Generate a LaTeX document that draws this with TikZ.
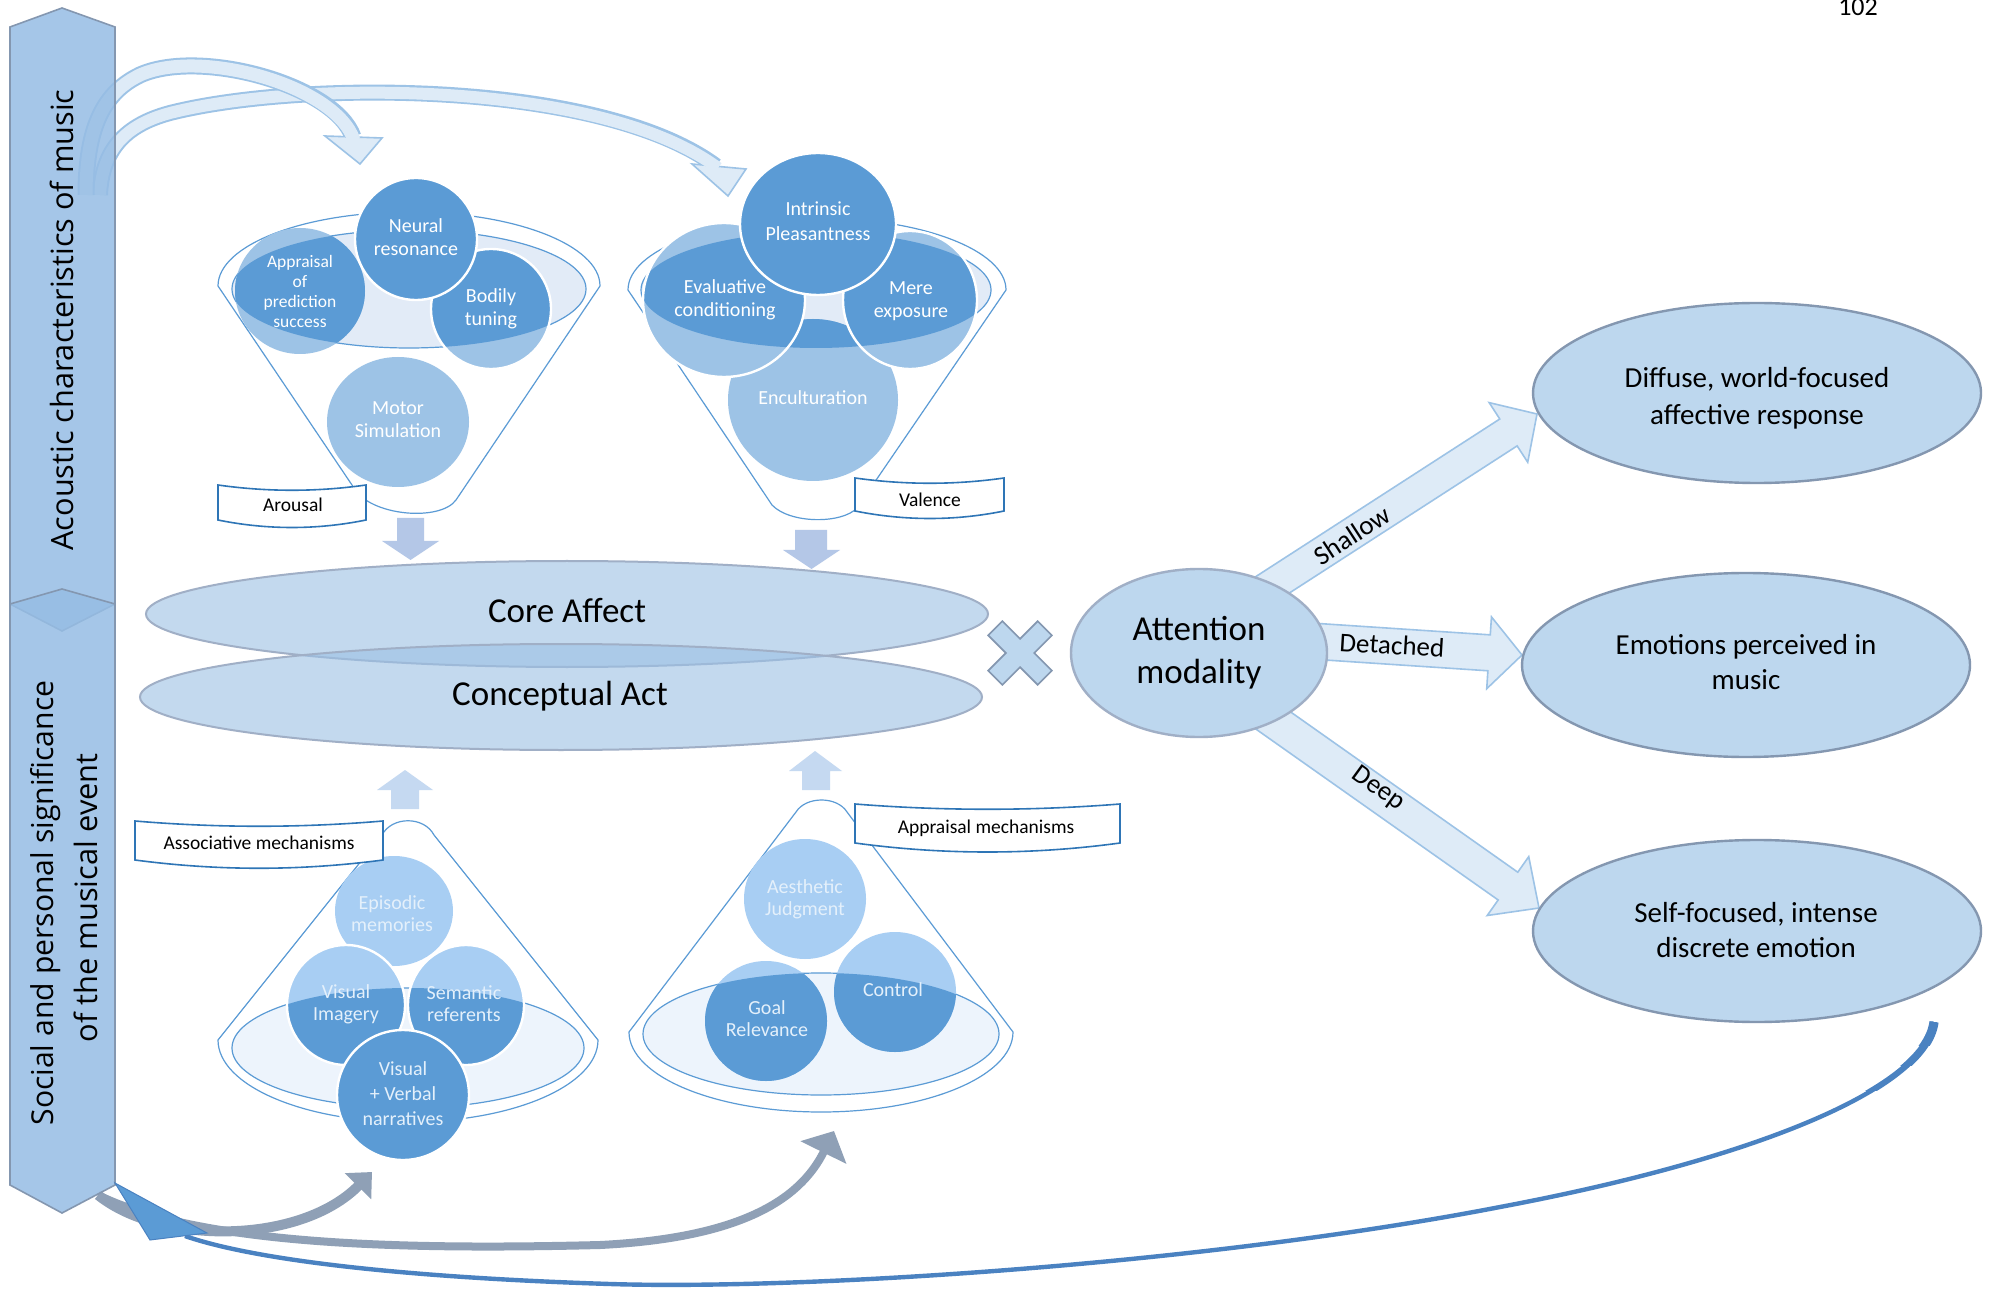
\documentclass[tikz,border=0pt]{standalone}
\usepackage{fontspec}
\setmainfont{Carlito}
\newfontfamily\barfont{Open Sans}
\usetikzlibrary{arrows.meta,calc,shapes.geometric}
\newcommand\fsz[2]{\fontsize{#1}{#2}\selectfont}
\definecolor{barC}{RGB}{150,189,228}
\definecolor{barL}{RGB}{132,151,176}
\definecolor{cdark}{RGB}{91,155,213}
\definecolor{clight}{RGB}{157,195,230}
\definecolor{clightB}{RGB}{168,206,243}
\definecolor{rimF}{RGB}{226,235,247}
\definecolor{rimFB}{RGB}{237,244,252}
\definecolor{funL}{RGB}{91,155,213}
\definecolor{ellF}{RGB}{189,215,238}
\definecolor{ellL}{RGB}{132,151,176}
\definecolor{caF}{RGB}{155,192,228}
\definecolor{caL}{RGB}{160,175,198}
\definecolor{baF}{RGB}{222,235,247}
\definecolor{baL}{RGB}{157,195,230}
\definecolor{dnA}{RGB}{180,199,231}
\definecolor{upA}{RGB}{197,217,241}
\definecolor{boxL}{RGB}{46,117,182}
\definecolor{grayA}{RGB}{143,160,182}
\definecolor{blueL}{RGB}{74,130,193}
\definecolor{softW}{RGB}{228,240,251}
\newcommand\bub[7]{%
  \fill[#7] #1 ellipse[x radius=#2, y radius=#3];
  \begin{scope}
    \clip #4 ellipse[x radius=#5, y radius=#6];
    \fill[cdark] #1 ellipse[x radius=#2, y radius=#3];
  \end{scope}}
\newcommand\bubedge[3]{\draw[white, line width=1.2pt] #1 ellipse[x radius=#2, y radius=#3];}
\newcommand\blockarr[5]{%
  \path ($(#2)!#5!(#1)$) coordinate (bah);
  \filldraw[barrow] ($(#1)!#3!90:(#2)$) -- ($(bah)!#3!90:(#2)$) -- ($(bah)!#4!90:(#2)$) -- (#2)
    -- ($(bah)!#4!-90:(#2)$) -- ($(bah)!#3!-90:(#2)$) -- ($(#1)!#3!-90:(#2)$) -- cycle;}
\begin{document}
\begin{tikzpicture}[x=0.5pt,y=-0.5pt,
  ctext/.style={text=white, align=center, inner sep=0pt, font=\fsz{10pt}{11.5pt}},
  ltext/.style={text=black, inner sep=0pt, anchor=base, font=\fsz{9.75pt}{11pt}},
  otext/.style={text=black, align=center, inner sep=0pt, font=\fsz{14.5pt}{17.5pt}},
  outell/.style={ellipse, fill=ellF, draw=ellL, line width=1.2pt, inner sep=0pt, minimum width=224pt},
  barrow/.style={fill=baF, draw=baL, line width=0.8pt},
  wavebox/.style={fill=white, draw=boxL, line width=0.8pt},
  funnel/.style={fill=white, draw=funL, line width=0.6pt},
  rim/.style={draw=funL, line width=0.6pt},
  arrlbl/.style={text=black, inner sep=0pt, font=\fsz{13.5pt}{15pt}},
  dnarrow/.style={fill=dnA},
  uparrow/.style={fill=upA}]
\fill[white] (0,0) rectangle (1995,1293);
\useasboundingbox (0,0) rectangle (1995,1293);

% ---------- top curved arrows (tails hidden under the bar)
\draw[baL, line width=8pt] (100,195) .. controls (102,150) and (125,125) .. (170,113) .. controls (300,80) and (600,80) .. (716,166);
\filldraw[barrow] (692,164) -- (746,169) -- (728,196) -- cycle;
\draw[baF, line width=6pt] (100,195) .. controls (102,150) and (125,125) .. (170,113) .. controls (300,80) and (600,80) .. (718,168);

\draw[baL, line width=8.5pt] (86,195) .. controls (86,125) and (105,92) .. (140,75) .. controls (200,48) and (335,85) .. (353,137);
\filldraw[barrow] (325,136) -- (382,138) -- (360,164) -- cycle;
\draw[baF, line width=6.5pt] (86,195) .. controls (86,125) and (105,92) .. (140,75) .. controls (200,48) and (335,85) .. (354,140);

% ---------- bottom grey arrows
\draw[grayA, line width=4pt, -{Triangle[length=12pt, width=25pt]}] (98,1195) .. controls (200,1245) and (400,1250) .. (600,1245) .. controls (740,1238) and (800,1200) .. (834,1131);
\draw[grayA, line width=5pt, -{Triangle[length=10pt, width=18pt]}] (98,1195) .. controls (160,1245) and (300,1245) .. (372,1172);

% ---------- side bars
\filldraw[fill=barC, fill opacity=0.85, draw=barL, line width=0.8pt] (10,27) -- (62,8) -- (115,27) -- (115,604) -- (62,631) -- (10,604) -- cycle;
\filldraw[fill=barC, fill opacity=0.85, draw=barL, line width=0.8pt] (10,604) -- (62,589) -- (115,604) -- (115,1185) -- (62,1213) -- (10,1185) -- cycle;
\node[rotate=90, anchor=base, inner sep=0pt] (bartop) at (73,320) {\resizebox{230.5pt}{!}{\barfont Acoustic characteristics of music}};
\node[rotate=90, anchor=base, inner sep=0pt] (barbotA) at (53,903) {\resizebox{222.5pt}{!}{\barfont Social and personal significance}};
\node[rotate=90, anchor=base, inner sep=0pt] (barbotB) at (97,898) {\resizebox{144.5pt}{!}{\barfont of the musical event}};

% ---------- long blue return line (thicker where it leaves the ellipse)
\draw[blueL, line width=2.2pt] (1934,1022) .. controls (1925,1090) and (1750,1160) .. (1500,1207) .. controls (1200,1265) and (800,1290) .. (610,1284) .. controls (420,1278) and (260,1262) .. (185,1236);
\begin{scope}
  \clip (1860,1000) rectangle (1995,1090);
  \draw[blueL, line width=3pt] (1934,1022) .. controls (1925,1090) and (1750,1160) .. (1500,1207);
\end{scope}
\begin{scope}
  \clip (1880,1000) rectangle (1995,1065);
  \draw[blueL, line width=3.8pt] (1934,1022) .. controls (1925,1090) and (1750,1160) .. (1500,1207);
\end{scope}
\begin{scope}
  \clip (1900,1000) rectangle (1995,1045);
  \draw[blueL, line width=4.6pt] (1934,1022) .. controls (1925,1090) and (1750,1160) .. (1500,1207);
\end{scope}
\filldraw[fill=cdark, draw=blueL, line width=0.5pt] (115,1183) -- (150,1240) -- (207,1233) -- cycle;

% ---------- funnel 1 (arousal)
\filldraw[funnel] (600,286) arc[start angle=0, end angle=180, x radius=95.5pt, y radius=37pt] -- (354,488) .. controls (370,516) and (440,522) .. (456,500) -- cycle;
\filldraw[rim, fill=rimF] (409,289) ellipse[x radius=88.5pt, y radius=29.5pt];
\bub{(398,422)}{35.5pt}{32.5pt}{(409,289)}{88.5pt}{29.5pt}{clight}
\bub{(300,291)}{32.5pt}{31.5pt}{(409,289)}{88.5pt}{29.5pt}{clight}
\bub{(491,309)}{30pt}{30pt}{(409,289)}{88.5pt}{29.5pt}{clight}
\bubedge{(491,309)}{30pt}{30pt}
\filldraw[fill=cdark, draw=white, line width=1.2pt] (416,239) ellipse[x radius=30.5pt, y radius=30.5pt];
\node[ctext, font=\fsz{8.75pt}{10pt}] (tappr) at (300,291) {Appraisal\\of\\prediction\\success};
\node[ctext] (tneural) at (416,237) {Neural\\resonance};
\node[ctext] (tbodily) at (491,309) {Bodily\\tuning};
\node[ctext] (tmotor) at (398,420) {Motor\\Simulation};

% ---------- funnel 2 (valence)
\filldraw[funnel] (1006,290) arc[start angle=0, end angle=180, x radius=94.5pt, y radius=36pt] -- (772,505) .. controls (790,524) and (842,524) .. (857,508) -- cycle;
\filldraw[rim, fill=rimF] (816,290) ellipse[x radius=87.5pt, y radius=29pt];
\bub{(813,400)}{42.5pt}{40.5pt}{(816,290)}{87.5pt}{29pt}{clight}
\bub{(724,300)}{40.5pt}{38.5pt}{(816,290)}{87.5pt}{29pt}{clight}
\bubedge{(724,300)}{40.5pt}{38.5pt}
\bub{(910,300)}{33.5pt}{34.5pt}{(816,290)}{87.5pt}{29pt}{clight}
\bubedge{(910,300)}{33.5pt}{34.5pt}
\filldraw[fill=cdark, draw=white, line width=1.2pt] (818,224) ellipse[x radius=39pt, y radius=35.5pt];
\node[ctext, font=\fsz{10pt}{12.5pt}] (tintr) at (818,221) {Intrinsic\\Pleasantness};
\node[ctext] (teval) at (725,300) {Evaluative\\conditioning};
\node[ctext] (tmere) at (911,301) {Mere\\exposure};
\node[ctext, anchor=base] (tencul) at (813,405) {Enculturation};

% ---------- labels and down arrows
\filldraw[wavebox] (218,485) .. controls (267,492) and (317,492) .. (366,485) -- (366,520) .. controls (317,530) and (267,530) .. (218,520) -- cycle;
\node[ltext] (larousal) at (293,512) {Arousal};
\filldraw[wavebox] (855,478) .. controls (905,485) and (955,485) .. (1004,478) -- (1004,511) .. controls (955,521) and (905,521) .. (855,511) -- cycle;
\node[ltext] (lvalence) at (930,507) {Valence};
\fill[dnarrow] (397,518) -- (424,518) -- (424,541) -- (439,541) -- (410.5,560) -- (382,541) -- (397,541) -- cycle;
\fill[dnarrow] (795,530) -- (827,530) -- (827,550) -- (840,550) -- (811.5,569) -- (783,550) -- (795,550) -- cycle;

% ---------- core affect / conceptual act
\node[ellipse, fill=caF, fill opacity=0.6, draw=caL, line width=1pt, minimum width=421pt, minimum height=53pt, inner sep=0pt] (core) at (567,614) {};
\node[ellipse, fill=caF, fill opacity=0.6, draw=caL, line width=1pt, minimum width=421pt, minimum height=53pt, inner sep=0pt] (concept) at (561,697) {};
\node[anchor=base, inner sep=0pt, font=\fsz{17.5pt}{21pt}] (coretxt) at (567,623) {Core Affect};
\node[anchor=base, inner sep=0pt, font=\fsz{17.5pt}{21pt}] (concepttxt) at (560,705) {Conceptual Act};

% ---------- multiplication sign
\filldraw[fill=ellF, draw=ellL, line width=0.8pt, shift={(1020,653)}, rotate=45] (10,10) -- (35,10) -- (35,-10) -- (10,-10) -- (10,-35) -- (-10,-35) -- (-10,-10) -- (-35,-10) -- (-35,10) -- (-10,10) -- (-10,35) -- (10,35) -- cycle;

% ---------- attention and outcomes
\coordinate (shS) at (1215,622); \coordinate (shT) at (1537,414);
\coordinate (deS) at (1250,637); \coordinate (deT) at (1522,655);
\coordinate (dpS) at (1230,690); \coordinate (dpT) at (1539,908);
\blockarr{shS}{shT}{8pt}{17.75pt}{17pt}
\blockarr{deS}{deT}{9pt}{18pt}{16.5pt}
\blockarr{dpS}{dpT}{8.5pt}{18pt}{19pt}
\node[ellipse, fill=ellF, draw=caL, line width=1.2pt, minimum width=128pt, minimum height=84pt, inner sep=0pt, align=center, font=\fsz{17.5pt}{21.5pt}] (att) at (1199,653) {Attention\\modality};
\node[arrlbl, rotate=33] (lshallow) at (1352,535) {Shallow};
\node[arrlbl, rotate=-3.5] (ldetached) at (1392,645) {Detached};
\node[arrlbl, rotate=-36] (ldeep) at (1378,789) {Deep};

\node[outell, minimum height=90pt] (diffuse) at (1757,393) {};
\node[outell, minimum height=92pt] (perceived) at (1746,665) {};
\node[outell, minimum height=91pt] (selffoc) at (1757,931) {};
\node[otext, font=\fsz{14.5pt}{18.5pt}] (tdiffuse) at (1757,398) {Diffuse, world-focused\\affective response};
\node[otext] (tperceived) at (1746,662) {Emotions perceived in\\music};
\node[otext] (tselffoc) at (1756,930) {Self-focused, intense\\discrete emotion};

% ---------- funnel 3 (associative)
\filldraw[funnel] (598,1040) arc[start angle=0, end angle=-180, x radius=95pt, y radius=41pt] -- (382,835) .. controls (392,816) and (424,816) .. (434,835) -- cycle;
\filldraw[rim, fill=rimFB] (408,1048) ellipse[x radius=88pt, y radius=30pt];
\bub{(394,911)}{29.5pt}{27.5pt}{(408,1048)}{88pt}{30pt}{clightB}
\bub{(346,1005)}{29.5pt}{30pt}{(408,1048)}{88pt}{30pt}{clightB}
\bubedge{(346,1005)}{29.5pt}{30pt}
\bub{(466,1005)}{29pt}{30pt}{(408,1048)}{88pt}{30pt}{clightB}
\bubedge{(466,1005)}{29pt}{30pt}
\filldraw[fill=cdark, draw=white, line width=1.2pt] (403,1095) ellipse[x radius=33pt, y radius=32.5pt];
\node[ctext, text=softW, font=\fsz{10pt}{11pt}] (tepis) at (392,914) {Episodic\\memories};
\node[ctext, text=softW, font=\fsz{10pt}{11pt}] (tvisimg) at (346,1004) {Visual\\Imagery};
\node[ctext, text=softW, font=\fsz{10pt}{11pt}] (tsem) at (464,1004) {Semantic\\referents};
\node[ctext, text=softW, font=\fsz{10pt}{12.5pt}] (tvv) at (403,1094) {Visual\\+ Verbal\\narratives};

% ---------- funnel 4 (appraisal)
\filldraw[funnel] (1013,1032) arc[start angle=0, end angle=-180, x radius=96pt, y radius=40pt] -- (796,812) .. controls (806,796) and (837,796) .. (847,812) -- cycle;
\filldraw[rim, fill=rimFB] (821,1034) ellipse[x radius=89pt, y radius=30.5pt];
\bub{(805,899)}{30.5pt}{30pt}{(821,1034)}{89pt}{30.5pt}{clightB}
\bub{(766,1021)}{30.5pt}{30pt}{(821,1034)}{89pt}{30.5pt}{clightB}
\bub{(895,992)}{30.5pt}{30pt}{(821,1034)}{89pt}{30.5pt}{clightB}
\node[ctext, text=softW, font=\fsz{10pt}{11pt}] (taesth) at (805,899) {Aesthetic\\Judgment};
\node[ctext, text=softW, font=\fsz{10pt}{11pt}] (tgoal) at (767,1019) {Goal\\Relevance};
\node[ctext, text=softW, anchor=base] (tcontrol) at (893,996) {Control};

% ---------- bottom labels and up arrows
\filldraw[wavebox] (135,821) .. controls (218,828) and (300,828) .. (383,821) -- (383,860) .. controls (300,871) and (218,871) .. (135,860) -- cycle;
\node[ltext] (lassoc) at (259,849) {Associative mechanisms};
\filldraw[wavebox] (855,804) .. controls (943,811) and (1032,811) .. (1120,804) -- (1120,843) .. controls (1032,855) and (943,855) .. (855,843) -- cycle;
\node[ltext] (lapprais) at (986,833) {Appraisal mechanisms};
\fill[uparrow] (405,770) -- (433,790) -- (419,790) -- (419,809) -- (391,809) -- (391,790) -- (377,790) -- cycle;
\fill[uparrow] (815,751) -- (842,771) -- (830,771) -- (830,790) -- (802,790) -- (802,771) -- (789,771) -- cycle;

% ---------- page number
\node[anchor=base, inner sep=0pt, font=\fsz{13pt}{15pt}] (pagenum) at (1858,16) {102};
\end{tikzpicture}
\end{document}
